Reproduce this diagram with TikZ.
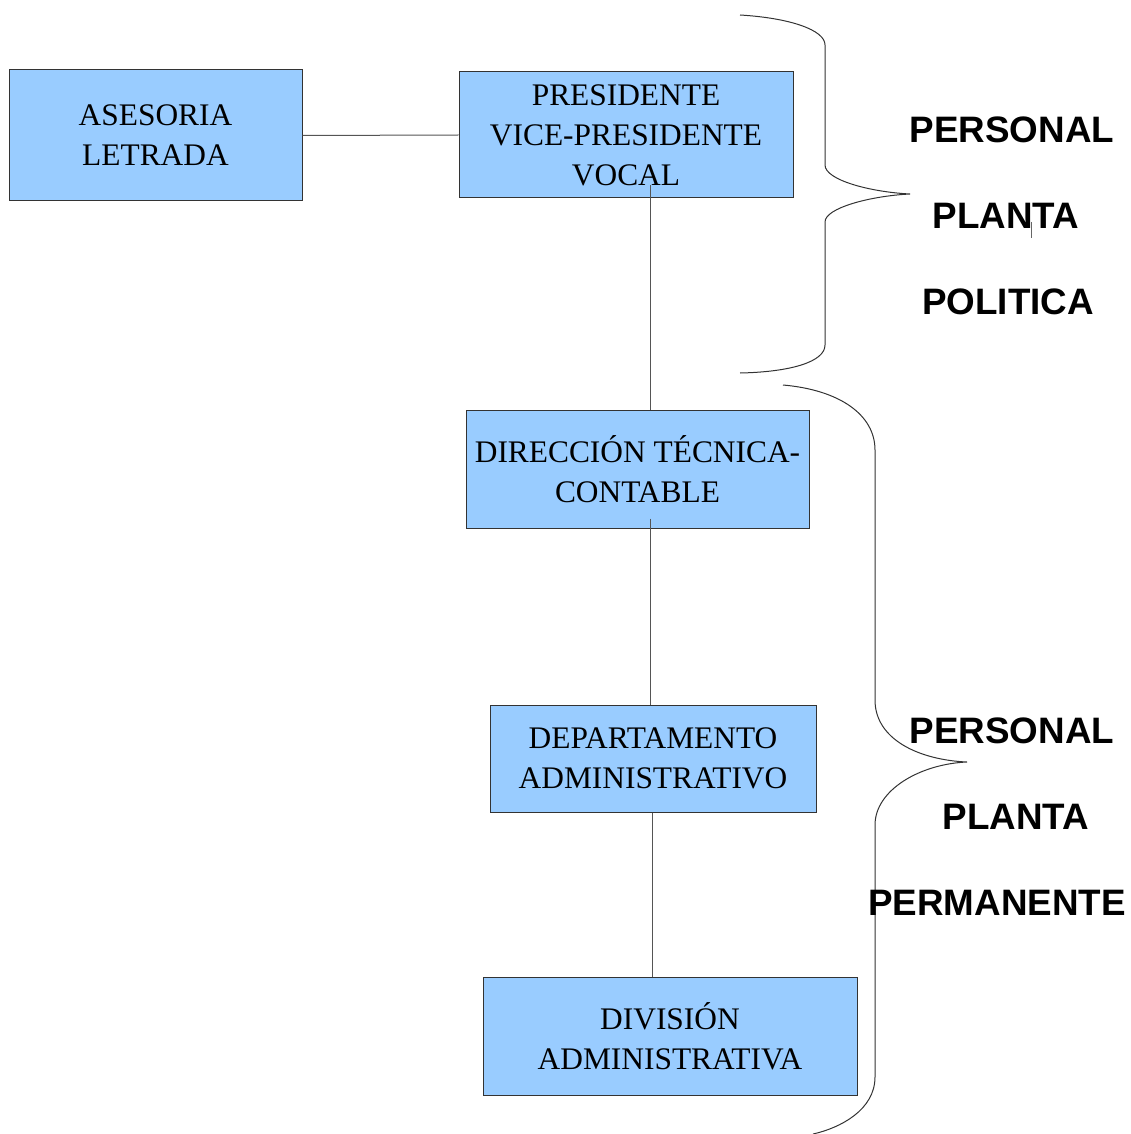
\documentclass[tikz,border=0pt]{standalone}
\usepackage{fontspec}
\setmainfont{Liberation Serif}
\newfontfamily\etiqfont{Liberation Sans}
\definecolor{celeste}{HTML}{99CCFF}
\definecolor{borde}{HTML}{333333}
\definecolor{linea}{HTML}{555555}
\begin{document}
\begin{tikzpicture}[x=0.5pt,y=-0.5pt,
  caja/.style={draw=borde,line width=0.5pt,fill=celeste,align=center,inner sep=0pt,
    font=\fontsize{15.7}{20}\selectfont},
  etiq/.style={font=\etiqfont\fontsize{18.4}{22}\selectfont\bfseries,inner sep=0pt},
  enlace/.style={draw=linea,line width=0.5pt},
  llave/.style={draw=black!80,line width=0.5pt}]
 \useasboundingbox (0,0) rectangle (1130,1134);
 \node[caja,minimum width=146.5pt,minimum height=65.5pt] (ases) at (155.5,135.5) {ASESORIA\\LETRADA};
 \node[caja,minimum width=167pt,minimum height=63pt] (pres) at (626,135) {PRESIDENTE\\VICE-PRESIDENTE\\VOCAL};
 \node[caja,minimum width=171.5pt,minimum height=59pt] (dir) at (637.5,469) {DIRECCIÓN TÉCNICA-\\CONTABLE};
 \node[caja,minimum width=163pt,minimum height=53.5pt] (dep) at (653,758.5) {DEPARTAMENTO\\ADMINISTRATIVO};
 \node[caja,minimum width=187pt,minimum height=59pt] (div) at (670,1036) {DIVISIÓN\\ADMINISTRATIVA};
 \coordinate (eje) at (650,0);
 \coordinate (eje2) at (652,0);
 \draw[enlace] (ases.east) -- (pres.west);
 \draw[enlace,shorten <=-6.5pt] (pres.south -| eje) -- (dir.north -| eje);
 \draw[enlace,shorten <=-5pt] (dir.south -| eje) -- (dep.north -| eje);
 \draw[enlace] (dep.south -| eje2) -- (div.north -| eje2);
 \draw[llave] (740,15) .. controls (790,18) and (825,30) .. (825,45) -- (825,165)
   .. controls (825,180) and (870,192) .. (910,194)
   .. controls (870,196) and (825,208) .. (825,222) -- (825,345)
   .. controls (825,362) and (790,372) .. (740,373);
 \draw[llave] (783,385) .. controls (840,390) and (875,415) .. (875,450) -- (875,700)
   .. controls (875,740) and (920,760) .. (967,762)
   .. controls (920,764) and (875,790) .. (875,825) -- (875,1077)
   .. controls (875,1110) and (840,1128) .. (813,1134);
 \node[etiq] (per1) at (1012,130) {PERSONAL};
 \node[etiq] (pla1) at (1006,216) {PLANTA};
 \node[etiq] (pol) at (1008,302) {POLITICA};
 \draw[draw=black!60,line width=0.4pt] (1031,222) -- (1031,238);
 \node[etiq] (per2) at (1012,731) {PERSONAL};
 \node[etiq] (pla2) at (1016,817) {PLANTA};
 \node[etiq] (perm) at (997,903) {PERMANENTE};
\end{tikzpicture}
\end{document}
